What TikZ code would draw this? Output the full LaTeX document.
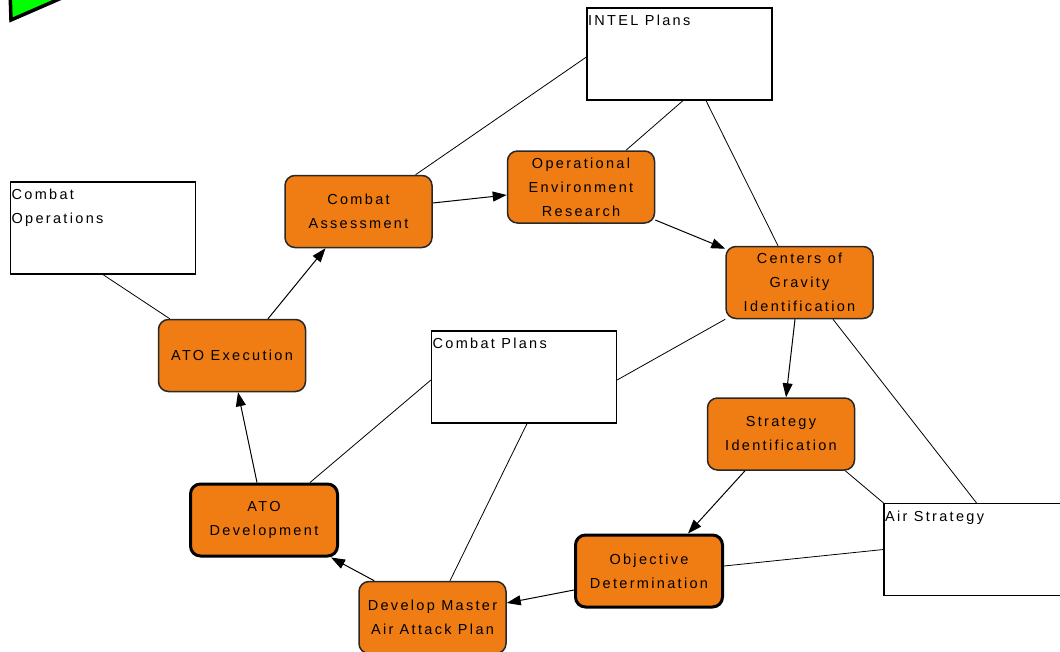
\documentclass[tikz,border=0pt]{standalone}
\usepackage{fontspec}
\newfontfamily\lab[LetterSpace=16]{Liberation Sans}
\usetikzlibrary{arrows.meta}
\definecolor{procfill}{RGB}{240,124,20}
\definecolor{procedge}{RGB}{40,40,40}
\begin{document}
\begin{tikzpicture}[x=1pt,y=-1pt,
  proc/.style={rounded corners=10pt, fill=procfill, draw=procedge, line width=1.5pt,
    minimum width=147pt, minimum height=72pt, align=center, inner sep=0pt,
    font=\lab\fontsize{14.5}{24}\selectfont},
  heavy/.style={line width=3pt, draw=black},
  infobox/.style={draw=black, fill=white, line width=1.2pt, minimum width=185pt, minimum height=92pt, inner sep=0pt},
  boxlabel/.style={anchor=north west, inner sep=1.5pt, yshift=-6pt, align=left, font=\lab\fontsize{14.5}{24}\selectfont},
  flow/.style={-{Triangle[length=14pt,width=10pt]}, line width=1pt, black},
  link/.style={line width=0.8pt, black}
]
\useasboundingbox (0,0) rectangle (1060,651);
\clip (0,0) rectangle (1060,651);
\fill[white] (0,0) rectangle (1060,651);

% green shape at top-left
\draw[fill=green, line width=3.5pt, line join=miter] (10,-10) -- (11,20) -- (80,-10) -- cycle;

% info boxes
\node[infobox, label={[boxlabel]north west:INTEL Plans}] (ip) at (679.5,54) {};
\node[infobox, label={[boxlabel]north west:Combat\\Operations}] (co) at (103,228) {};
\node[infobox, label={[boxlabel]north west:Combat Plans}] (cp) at (524,377) {};
\node[infobox, label={[boxlabel]north west:Air Strategy}] (as) at (976.5,549.5) {};

% process nodes
\node[proc] (ca) at (358.5,211.5) {Combat\\Assessment};
\node[proc] (oe) at (581,187) {Operational\\Environment\\Research};
\node[proc] (cg) at (799.5,282.5) {Centers of\\Gravity\\Identification};
\node[proc] (si) at (781,434) {Strategy\\Identification};
\node[proc,heavy] (od) at (649,571) {Objective\\Determination};
\node[proc] (dm) at (432.5,617.5) {Develop Master\\Air Attack Plan};
\node[proc,heavy] (ad) at (264,520) {ATO\\Development};
\node[proc] (ae) at (232,355.5) {ATO Execution};

% plain links
\draw[link] ([yshift=-3pt]ip.west) -- ([xshift=57pt]ca.north);
\draw[link] ([xshift=3.5pt]ip.south) -- ([xshift=45pt]oe.north);
\draw[link] ([xshift=26.5pt]ip.south) -- ([xshift=-21.5pt]cg.north);
\draw[link] (co.south) -- ([xshift=12pt]ae.north west);
\draw[link] ([yshift=-3pt]cp.west) -- ([xshift=46pt]ad.north);
\draw[link] ([xshift=3pt]cp.south) -- ([xshift=17.5pt]dm.north);
\draw[link] ([yshift=-3pt]cp.east) -- (cg.south west);
\draw[link] (as.west) -- ([yshift=5pt]od.east);
\draw[link] (as.north west) -- ([xshift=-10pt]si.south east);
\draw[link] (as.north) -- ([xshift=33.5pt]cg.south);

% flow arrows
\draw[flow] ([xshift=-7pt]ad.north) -- ([xshift=6pt]ae.south);
\draw[flow] ([xshift=36pt]ae.north) -- ([xshift=-33pt]ca.south);
\draw[flow] ([yshift=8.5pt]ca.east) -- ([yshift=-8pt]oe.west);
\draw[flow] ([yshift=-33pt]oe.east) -- ([yshift=-3pt]cg.north west);
\draw[flow] ([xshift=-4.5pt]cg.south) -- ([xshift=5pt]si.north);
\draw[flow] ([xshift=-36pt]si.south) -- ([xshift=39pt]od.north);
\draw[flow] ([yshift=-19pt]od.west) -- ([yshift=14.5pt]dm.east);
\draw[flow] ([xshift=16pt]dm.north west) -- ([xshift=-8pt]ad.south east);
\end{tikzpicture}
\end{document}
